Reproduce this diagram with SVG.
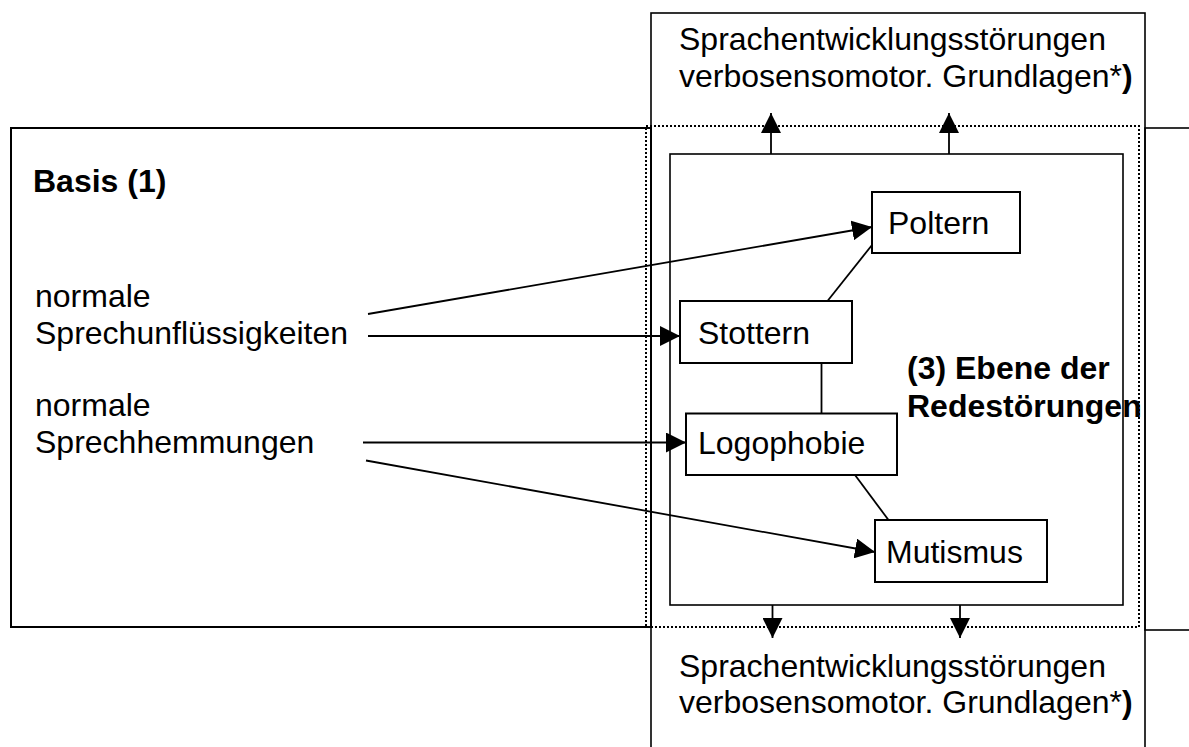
<svg xmlns="http://www.w3.org/2000/svg" width="1189" height="747" viewBox="0 0 1189 747">
  <style>
    .frame { fill: none; stroke: #000; stroke-width: 2; }
    .thin { fill: none; stroke: #000; stroke-width: 1.6; }
    .dot { fill: none; stroke: #000; stroke-width: 2; stroke-dasharray: 2 2; }
    .box { fill: #fff; stroke: #000; stroke-width: 2; }
    .t { font-family: "Liberation Sans", Arial, sans-serif; font-size: 32px; fill: #000; }
    .b { font-weight: bold; }
    .ln { fill: none; stroke: #000; stroke-width: 1.8; }
  </style>
  <defs>
    <marker id="ah" markerUnits="userSpaceOnUse" markerWidth="20" markerHeight="20" refX="20" refY="10" orient="auto">
      <path d="M0,0 L20,10 L0,20 z" fill="#000"/>
    </marker>
  </defs>

  <rect x="0" y="0" width="1189" height="747" fill="#fff"/>

  <!-- Basis frame (1) -->
  <g id="basis">
    <rect class="frame" x="11" y="128" width="640" height="499"/>
    <text class="t b" x="33" y="192">Basis (1)</text>
  </g>

  <!-- Column frame (Sprachentwicklungsstörungen) -->
  <g id="column">
    <rect class="thin" x="651" y="13" width="494" height="760"/>
    <text class="t" x="679" y="50">Sprachentwicklungsstörungen</text>
    <text class="t" x="679" y="87">verbosensomotor. Grundlagen*<tspan class="b">)</tspan></text>
    <text class="t" x="679" y="677">Sprachentwicklungsstörungen</text>
    <text class="t" x="679" y="713">verbosensomotor. Grundlagen*<tspan class="b">)</tspan></text>
  </g>

  <!-- Right partial frame -->
  <g id="right-frame">
    <rect class="thin" x="1145" y="128" width="80" height="502"/>
  </g>

  <!-- Dotted frame -->
  <g id="dotted-frame">
    <rect class="dot" x="646" y="126" width="493" height="501"/>
  </g>

  <!-- Inner frame (3) -->
  <g id="ebene">
    <rect class="thin" x="670" y="154" width="453" height="451"/>
    <text class="t b" x="907" y="379">(3) Ebene der</text>
    <text class="t b" x="907" y="417">Redestörungen</text>
  </g>

  <!-- Left labels -->
  <g id="sprechunfluessigkeiten">
    <text class="t" x="35" y="307">normale</text>
    <text class="t" x="35" y="343.5">Sprechunflüssigkeiten</text>
  </g>
  <g id="sprechhemmungen">
    <text class="t" x="35" y="416">normale</text>
    <text class="t" x="35" y="453">Sprechhemmungen</text>
  </g>

  <!-- Connectors -->
  <g id="connectors">
    <line class="ln" x1="368" y1="314" x2="872" y2="227" marker-end="url(#ah)"/>
    <line class="ln" x1="368" y1="336" x2="680" y2="336" marker-end="url(#ah)"/>
    <line class="ln" x1="363" y1="442.5" x2="686" y2="442.5" marker-end="url(#ah)"/>
    <line class="ln" x1="366" y1="460.5" x2="875" y2="552" marker-end="url(#ah)"/>
    <line class="ln" x1="872" y1="245" x2="827.5" y2="301"/>
    <line class="ln" x1="821.5" y1="362.5" x2="821.5" y2="413.5"/>
    <line class="ln" x1="855" y1="475" x2="888.5" y2="520"/>
    <line class="ln" x1="771" y1="154" x2="771" y2="113" marker-end="url(#ah)"/>
    <line class="ln" x1="949" y1="154" x2="949" y2="113" marker-end="url(#ah)"/>
    <line class="ln" x1="772.5" y1="605" x2="772.5" y2="638" marker-end="url(#ah)"/>
    <line class="ln" x1="960" y1="605" x2="960" y2="638" marker-end="url(#ah)"/>
  </g>

  <!-- Nodes -->
  <g id="poltern">
    <rect class="box" x="872" y="192" width="148" height="61"/>
    <text class="t" x="888" y="234">Poltern</text>
  </g>
  <g id="stottern">
    <rect class="box" x="680" y="301" width="172" height="62"/>
    <text class="t" x="698" y="344">Stottern</text>
  </g>
  <g id="logophobie">
    <rect class="box" x="686" y="413.5" width="211" height="61.5"/>
    <text class="t" x="698" y="454">Logophobie</text>
  </g>
  <g id="mutismus">
    <rect class="box" x="875" y="520" width="172" height="62"/>
    <text class="t" x="886" y="563">Mutismus</text>
  </g>
</svg>
